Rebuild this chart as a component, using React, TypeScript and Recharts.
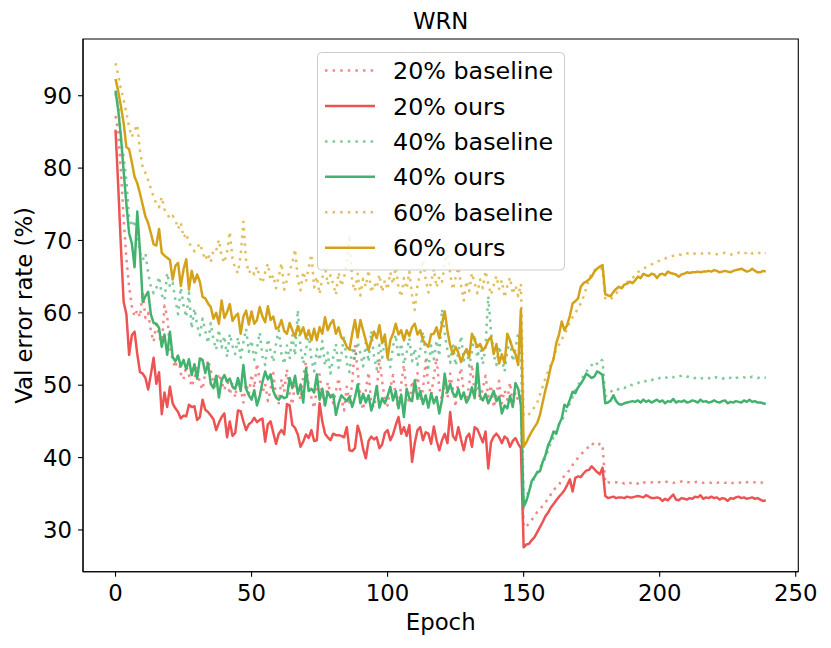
import { LineChart, Line, XAxis, YAxis, Legend, ReferenceArea } from "recharts";

const FONT = "DejaVu Sans, Verdana, sans-serif";
const RED = "#ee5353";
const GREEN = "#44b26f";
const GOLD = "#d4a21a";

// epoch index on the x axis
const epochs = Array.from({ length: 240 }, (_, i) => i);

const xTicks = [0, 50, 100, 150, 200, 250];
const yTicks = [30, 40, 50, 60, 70, 80, 90];
const X_DOMAIN = [-11.95, 250.95];
const Y_DOMAIN = [24.23, 97.84];

// 20% noise
const base20 = [
  87.2, 85.0, 79.5, 73.0, 67.5, 63.6, 60.9, 59.5, 60.4, 59.4,
  62.9, 59.3, 60.0, 57.5, 56.0, 58.4, 57.0, 55.5, 61.0, 59.5,
  55.2, 53.5, 52.4, 54.3, 51.6, 50.8, 52.7, 51.4, 49.8, 50.9,
  52.6, 50.2, 49.4, 51.8, 53.5, 52.1, 50.3, 49.5, 51.6, 50.5,
  49.3, 51.0, 48.7, 50.4, 48.3, 50.9, 49.6, 47.6, 50.2, 48.8,
  51.5, 49.6, 53.0, 50.7, 48.9, 50.2, 47.8, 49.5, 51.7, 48.5,
  47.5, 50.8, 49.1, 52.2, 48.8, 47.3, 50.6, 49.4, 48.0, 51.3,
  53.2, 50.0, 48.3, 46.8, 49.7, 51.5, 48.6, 47.2, 50.4, 48.9,
  47.5, 49.2, 51.0, 48.2, 46.5, 49.8, 47.6, 50.3, 55.6, 52.0,
  48.4, 46.6, 49.3, 51.8, 47.5, 46.9, 49.1, 53.7, 50.5, 48.0,
  47.2, 49.6, 51.4, 48.3, 46.8, 50.2, 52.8, 49.0, 47.4, 50.6,
  48.9, 51.7, 47.8, 49.5, 53.4, 50.1, 48.6, 51.2, 53.8, 49.7,
  47.9, 50.3, 48.2, 51.6, 49.4, 47.0, 50.8, 52.4, 49.0, 47.6,
  50.2, 52.9, 48.7, 50.5, 47.8, 49.6, 51.3, 48.4, 50.0, 46.9,
  48.8, 50.6, 47.5, 49.3, 48.0, 50.4, 47.2, 49.0, 47.8, 48.5,
  30.4, 30.5, 30.9, 31.4, 31.9, 32.5, 32.9, 33.3, 33.8, 34.3,
  34.9, 35.6, 35.8, 36.2, 37.0, 37.5, 37.8, 38.4, 39.0, 39.4,
  40.0, 40.4, 40.8, 41.1, 41.6, 42.0, 41.7, 41.6, 41.9, 41.8,
  36.5, 36.6, 36.5, 36.6, 36.6, 36.5, 36.6, 36.4, 36.6, 36.5,
  36.5, 36.6, 36.4, 36.7, 36.6, 36.5, 36.6, 36.6, 36.5, 36.6,
  36.6, 36.5, 36.6, 36.7, 36.6, 36.5, 36.6, 36.6, 36.7, 36.5,
  36.6, 36.6, 36.5, 36.6, 36.7, 36.6, 36.5, 36.6, 36.6, 36.5,
  36.6, 36.5, 36.6, 36.6, 36.5, 36.6, 36.4, 36.5, 36.6, 36.6,
  36.5, 36.7, 36.6, 36.6, 36.5, 36.6, 36.7, 36.6, 36.5, 36.6,
];

const ours20 = [
  85.3, 77.5, 69.0, 61.5, 59.8, 54.2, 56.9, 57.4, 54.3, 51.8,
  51.6, 51.0, 49.4, 51.5, 53.8, 50.2, 51.8, 46.0, 49.0, 47.0,
  49.8, 47.5, 46.8, 46.3, 45.4, 45.8, 45.7, 47.3, 47.0, 47.1,
  45.2, 45.6, 48.0, 46.6, 46.3, 45.8, 45.3, 43.8, 44.8, 45.6,
  46.1, 42.8, 45.0, 43.0, 43.4, 46.5, 46.4, 45.0, 43.8, 44.6,
  44.9, 45.5, 44.9, 45.2, 45.4, 42.2, 44.6, 45.0, 43.4, 41.9,
  43.3, 43.8, 43.2, 47.4, 47.2, 44.5, 44.1, 43.2, 41.5, 42.2,
  43.2, 42.7, 43.8, 42.3, 42.4, 47.5, 45.0, 43.3, 42.8, 42.4,
  43.3, 43.1, 43.1, 43.0, 42.8, 44.2, 41.0, 40.9, 41.3, 44.4,
  43.2, 41.2, 39.9, 42.3, 42.9, 42.5, 42.8, 41.3, 41.8, 43.4,
  43.8, 42.4, 43.2, 44.5, 45.6, 43.3, 44.2, 43.0, 44.5, 39.4,
  42.0, 43.8, 44.2, 42.4, 43.5, 43.3, 41.9, 44.3, 42.4, 41.0,
  42.4, 43.3, 42.0, 46.3, 43.0, 42.4, 44.2, 42.5, 41.0, 42.8,
  43.3, 41.5, 44.2, 43.9, 43.0, 42.1, 43.6, 38.5, 42.1, 42.9,
  43.3, 42.8, 42.0, 42.9, 42.6, 41.5, 42.3, 42.7, 41.9, 41.3,
  27.6, 28.0, 28.1, 28.6, 29.0, 29.7, 30.4, 31.1, 31.9, 32.4,
  33.1, 33.6, 34.1, 34.6, 35.0, 35.5, 36.2, 37.0, 35.3, 37.2,
  37.4, 37.3, 37.8, 38.2, 38.3, 38.8, 38.4, 38.0, 37.7, 38.6,
  34.7, 34.4, 34.5, 34.6, 34.4, 34.5, 34.5, 34.4, 34.6, 34.5,
  34.5, 34.6, 34.7, 34.6, 34.5, 34.8, 34.6, 34.4, 34.4, 34.5,
  34.4, 34.0, 34.3, 34.1, 34.5, 34.9, 34.2, 34.1, 34.4, 34.3,
  34.2, 34.4, 34.3, 34.6, 34.5, 34.8, 34.3, 34.5, 34.4, 34.6,
  34.4, 34.5, 34.2, 34.4, 34.3, 34.0, 34.4, 34.3, 34.5, 34.6,
  34.4, 34.5, 34.3, 34.4, 34.5, 34.3, 34.4, 34.2, 34.0, 34.1,
];

// 40% noise
const base40 = [
  90.3, 88.5, 84.0, 81.5, 78.3, 73.2, 71.9, 72.8, 71.0, 68.2,
  67.3, 68.2, 65.5, 63.6, 62.7, 63.4, 65.0, 62.5, 61.7, 65.5,
  63.6, 64.2, 61.8, 59.8, 63.5, 61.0, 59.4, 62.8, 57.8, 60.6,
  58.3, 56.9, 59.2, 57.5, 55.8, 58.6, 56.3, 54.9, 57.7, 55.2,
  56.8, 53.9, 57.1, 55.4, 54.3, 56.6, 53.8, 55.9, 57.8, 54.6,
  56.2, 53.5, 55.1, 57.3, 54.0, 52.8, 56.4, 54.7, 53.2, 55.8,
  57.6, 54.3, 52.9, 55.5, 53.6, 56.9, 54.1, 60.4, 55.2, 53.0,
  54.8, 57.2, 53.6, 51.9, 55.0, 53.4, 56.1, 52.7, 54.5, 51.6,
  53.9, 55.7, 52.4, 54.2, 56.8, 53.1, 51.8, 55.3, 53.5, 56.0,
  54.4, 52.6, 55.9, 53.2, 57.5, 54.0, 52.2, 55.6, 53.8, 56.3,
  54.1, 52.5, 55.4, 57.0, 53.7, 55.8, 52.9, 54.6, 56.5, 53.3,
  55.1, 52.8, 54.9, 57.4, 54.2, 52.4, 55.5, 53.6, 56.2, 54.0,
  60.5, 57.2, 54.8, 53.1, 55.9, 52.7, 54.5, 56.8, 53.4, 55.2,
  52.6, 54.7, 57.0, 53.8, 55.6, 52.9, 55.3, 62.3, 57.5, 54.2,
  52.8, 55.4, 53.6, 51.9, 54.8, 56.1, 53.3, 55.0, 57.2, 55.6,
  33.8, 34.5, 35.6, 36.4, 37.2, 37.8, 38.6, 39.2, 40.0, 41.0,
  42.0, 42.8, 43.5, 44.6, 45.0, 46.0, 46.8, 47.5, 48.4, 49.3,
  50.0, 50.6, 51.3, 51.8, 52.4, 52.8, 52.5, 53.0, 53.6, 53.4,
  48.4, 48.9, 49.1, 49.3, 49.2, 49.5, 49.7, 49.6, 49.9, 50.1,
  50.0, 50.2, 50.3, 50.5, 50.4, 50.6, 50.8, 50.7, 50.9, 50.8,
  51.0, 50.9, 51.1, 51.0, 51.2, 51.1, 51.3, 51.2, 51.3, 51.4,
  51.2, 51.1, 50.9, 51.0, 51.1, 50.9, 51.0, 51.1, 51.0, 50.8,
  51.0, 51.1, 51.0, 50.9, 51.0, 51.2, 51.0, 50.8, 51.0, 51.1,
  51.0, 51.1, 50.9, 51.0, 51.2, 51.1, 51.0, 51.1, 51.2, 51.0,
];

const ours40 = [
  90.7, 88.0, 84.3, 79.5, 75.0, 71.0, 69.6, 66.3, 74.0, 68.5,
  61.5, 62.3, 62.9, 59.8, 58.6, 58.5, 57.9, 55.3, 57.0, 54.2,
  57.4, 53.9, 53.3, 54.1, 52.6, 53.5, 52.2, 53.6, 51.4, 52.9,
  50.9, 53.7, 53.5, 51.7, 53.0, 50.2, 49.6, 51.3, 48.3, 50.7,
  51.4, 50.5, 50.9, 49.8, 49.5, 51.0, 49.2, 52.8, 49.5, 48.6,
  48.0, 49.3, 47.2, 48.5, 50.4, 51.9, 50.8, 51.5, 49.2, 48.3,
  48.0, 48.5, 48.2, 48.4, 51.0, 49.6, 51.3, 48.8, 50.1, 47.6,
  52.3, 49.2, 49.5, 49.0, 51.5, 48.0, 49.5, 47.2, 49.1, 48.3,
  48.7, 45.9, 47.5, 48.6, 48.2, 47.8, 48.4, 47.0, 48.3, 50.1,
  47.5, 48.8, 47.6, 48.6, 46.5, 47.8, 49.9, 46.9, 48.2, 47.5,
  48.5, 49.8, 47.9, 49.2, 46.8, 48.7, 45.6, 49.5, 48.2, 47.8,
  50.7, 48.1, 49.2, 47.4, 48.6, 46.9, 48.9, 47.5, 48.4, 46.1,
  48.0, 51.6, 49.0, 50.2, 48.9, 48.4, 49.5, 48.1, 49.0, 47.6,
  48.3, 49.7, 48.2, 53.0, 48.5, 47.9, 48.8, 47.5, 48.3, 49.2,
  47.8, 48.4, 46.1, 47.2, 46.8, 48.5, 47.0, 50.3, 49.5, 47.2,
  33.2, 34.0, 35.3, 36.8, 37.3, 38.0, 38.1, 39.4, 40.3, 41.7,
  42.5, 43.6, 43.3, 44.6, 45.4, 47.3, 47.0, 48.0, 49.1, 48.9,
  49.7, 50.2, 50.8, 51.6, 51.3, 51.0, 51.2, 51.9, 51.7, 51.4,
  47.5, 47.6, 47.9, 48.6, 47.8, 47.4, 47.3, 47.5, 47.6, 47.7,
  47.8, 47.7, 47.9, 47.6, 48.0, 47.7, 47.9, 47.6, 47.8, 48.0,
  47.7, 47.9, 47.5, 47.8, 47.7, 48.1, 47.6, 47.8, 47.7, 47.9,
  47.6, 47.7, 47.9, 47.8, 47.6, 48.0, 47.7, 47.8, 47.6, 47.7,
  47.9, 47.7, 47.6, 47.8, 47.9, 47.5, 47.7, 47.6, 47.8, 47.7,
  47.6, 47.9, 47.7, 48.0, 47.7, 47.8, 47.6, 47.6, 47.5, 47.4,
];

// 60% noise
const base60 = [
  94.5, 92.8, 90.9, 89.4, 87.6, 85.7, 84.3, 85.2, 86.0, 82.4,
  80.1, 79.3, 78.3, 77.2, 76.0, 75.1, 74.6, 76.0, 74.3, 73.7,
  73.0, 73.4, 72.8, 71.6, 72.5, 70.4, 71.0, 69.6, 69.2, 68.5,
  69.0, 69.6, 68.4, 67.3, 68.2, 67.0, 68.7, 68.6, 70.1, 67.8,
  66.9, 68.4, 71.2, 67.5, 66.1, 65.5, 68.0, 72.6, 67.2, 65.5,
  66.0, 65.3, 66.4, 64.8, 64.1, 65.6, 66.8, 64.5, 65.2, 63.4,
  65.0, 66.9, 63.2, 64.5, 65.8, 66.9, 68.8, 64.6, 63.1, 65.7,
  64.3, 66.2, 68.1, 63.5, 65.0, 62.6, 64.8, 66.4, 63.9, 65.2,
  64.0, 62.5, 65.6, 63.7, 64.9, 66.8, 70.7, 64.2, 63.0, 65.4,
  62.4, 64.7, 63.6, 65.9, 62.8, 64.1, 63.4, 65.3, 62.9, 64.5,
  63.2, 65.6, 64.0, 66.3, 63.5, 62.2, 64.8, 63.3, 65.7, 62.4,
  60.4, 63.9, 65.4, 67.3, 64.6, 62.8, 64.2, 66.1, 63.5, 65.0,
  64.3, 66.7, 68.7, 65.4, 63.2, 64.9, 66.3, 63.8, 61.7, 64.4,
  63.0, 65.5, 64.1, 62.7, 64.6, 63.4, 65.8, 64.0, 62.5, 63.8,
  65.1, 63.3, 64.5, 62.1, 63.7, 64.9, 62.6, 63.8, 62.3, 64.0,
  45.8, 45.7, 46.0, 46.4, 47.0, 47.6, 48.7, 49.8, 50.9, 51.9,
  52.8, 53.7, 54.9, 55.6, 56.3, 57.0, 57.8, 58.8, 59.4, 60.0,
  60.6, 61.3, 62.2, 63.4, 64.6, 65.5, 65.9, 66.1, 66.3, 66.0,
  62.0, 61.9, 61.8, 62.3, 62.7, 63.1, 63.4, 63.8, 64.2, 64.5,
  64.8, 65.2, 65.6, 65.9, 66.1, 66.3, 66.5, 66.7, 66.9, 67.1,
  67.2, 67.4, 67.5, 67.7, 67.8, 67.9, 68.0, 68.1, 68.0, 68.2,
  68.2, 68.3, 68.1, 68.2, 68.3, 68.2, 68.2, 68.1, 68.2, 68.3,
  68.2, 68.1, 68.2, 68.2, 68.3, 68.2, 68.1, 68.0, 68.2, 68.3,
  68.4, 68.2, 68.3, 68.5, 68.2, 68.3, 68.4, 68.2, 68.1, 68.3,
];

const ours60 = [
  92.3, 90.6, 88.5, 86.2, 82.9, 82.6, 80.8, 78.8, 77.9, 76.5,
  74.9, 73.3, 72.4, 71.0, 69.5, 69.3, 71.6, 68.3, 67.9, 67.6,
  67.3, 64.6, 66.5, 66.9, 63.7, 66.0, 67.4, 63.2, 65.8, 64.2,
  65.3, 64.3, 62.2, 62.0, 61.3, 60.8, 59.2, 60.0, 58.5, 61.7,
  59.3, 60.1, 61.2, 58.9, 59.5, 59.9, 57.1, 59.5, 60.3, 58.4,
  60.2, 58.5, 59.0, 60.8, 59.5, 58.7, 60.9, 59.0, 59.5, 57.8,
  58.0, 59.0, 57.5, 57.1, 58.6, 57.6, 56.7, 58.2, 57.1, 58.0,
  56.5, 57.6, 56.2, 57.8, 56.2, 58.0, 57.1, 59.4, 57.6, 58.5,
  59.0, 57.1, 58.0, 56.6, 56.2, 55.3, 54.9, 57.1, 59.0, 56.6,
  59.0, 57.6, 56.2, 54.8, 56.2, 57.4, 56.5, 58.3, 55.8, 57.0,
  53.7, 56.2, 57.1, 58.5, 57.0, 57.6, 56.2, 57.6, 56.8, 58.0,
  58.5, 57.0, 57.6, 56.2, 55.7, 55.3, 57.0, 57.1, 58.0, 56.5,
  58.5, 60.2, 57.5, 55.5, 54.3, 55.3, 54.5, 53.2, 54.3, 55.0,
  53.9, 57.1, 56.2, 55.3, 55.7, 54.8, 55.3, 56.2, 56.7, 54.3,
  55.7, 53.0, 54.3, 53.0, 57.1, 56.2, 55.0, 54.3, 52.8, 60.5,
  41.5, 42.1, 42.9, 43.6, 44.2, 44.8, 45.9, 47.6, 49.3, 50.8,
  52.6, 53.6, 55.8, 57.0, 58.8, 57.6, 58.3, 59.6, 61.3, 61.6,
  62.0, 63.6, 64.1, 64.3, 64.6, 65.0, 65.7, 66.1, 66.4, 66.6,
  62.6, 62.4, 62.3, 62.9, 63.3, 63.6, 63.4, 63.9, 64.0, 64.3,
  64.1, 64.5, 65.0, 64.8, 65.4, 65.2, 65.1, 65.4, 65.3, 64.8,
  65.3, 65.4, 65.2, 65.7, 65.5, 65.4, 65.3, 65.0, 65.3, 65.4,
  65.6, 65.5, 65.6, 65.6, 65.7, 65.6, 65.7, 65.7, 65.8, 65.7,
  65.9, 65.8, 65.6, 65.7, 65.8, 65.7, 65.6, 65.8, 65.9, 66.0,
  66.1, 65.9, 65.7, 65.8, 66.1, 65.8, 65.6, 65.6, 65.8, 65.7,
];

const series = [
  { key: "base20", name: "20% baseline", color: RED, dotted: true },
  { key: "ours20", name: "20% ours", color: RED, dotted: false },
  { key: "base40", name: "40% baseline", color: GREEN, dotted: true },
  { key: "ours40", name: "40% ours", color: GREEN, dotted: false },
  { key: "base60", name: "60% baseline", color: GOLD, dotted: true },
  { key: "ours60", name: "60% ours", color: GOLD, dotted: false },
];

const data = epochs.map((epoch, i) => ({
  epoch,
  base20: base20[i],
  ours20: ours20[i],
  base40: base40[i],
  ours40: ours40[i],
  base60: base60[i],
  ours60: ours60[i],
}));

const FS = 22.8;
const LEGEND_FS = 23.8;
const LW = 2.5;
const DASH = "2.5 5.1";
const tickStyle = { fill: "#000", fontSize: FS, fontFamily: FONT };
const axisLine = { stroke: "#000", strokeWidth: 1.1 };

function LegendBox() {
  return (
    <svg width={249} height={220} style={{ display: "block" }}>
      <rect
        x={0.5}
        y={0.5}
        width={247}
        height={217.5}
        rx={4}
        fill="#fff"
        fillOpacity={0.8}
        stroke="#cccccc"
        strokeWidth={1}
      />
      {series.map((s, i) => {
        const cy = 18.5 + i * 35.45;
        return (
          <g key={s.key}>
            <line
              x1={8}
              x2={58}
              y1={cy}
              y2={cy}
              stroke={s.color}
              strokeWidth={LW}
              strokeOpacity={s.dotted ? 0.7 : 1}
              strokeDasharray={s.dotted ? DASH : undefined}
            />
            <text
              x={76}
              y={cy}
              dy="0.36em"
              fontSize={LEGEND_FS}
              fontFamily={FONT}
              fill="#000"
            >
              {s.name}
            </text>
          </g>
        );
      })}
    </svg>
  );
}

export default function App() {
  return (
    <div
      style={{
        position: "absolute",
        left: 0,
        top: 0,
        width: 831,
        height: 648,
        background: "#fff",
      }}
    >
      <LineChart
        width={831}
        height={648}
        data={data}
        margin={{ top: 39, right: 32.7, bottom: 0, left: 23 }}
      >
        <XAxis
          dataKey="epoch"
          type="number"
          domain={X_DOMAIN}
          allowDataOverflow
          ticks={xTicks}
          height={76.3}
          tick={tickStyle}
          tickSize={5}
          tickMargin={8.5}
          tickLine={axisLine}
          axisLine={axisLine}
          label={() => (
            <text
              x={440.7}
              y={630}
              textAnchor="middle"
              fontSize={FS}
              fontFamily={FONT}
              fill="#000"
            >
              Epoch
            </text>
          )}
        />
        <YAxis
          type="number"
          domain={Y_DOMAIN}
          allowDataOverflow
          ticks={yTicks}
          width={60}
          tick={tickStyle}
          tickSize={5}
          tickMargin={6}
          tickLine={axisLine}
          axisLine={axisLine}
          label={() => (
            <text
              transform="translate(32,305.4) rotate(-90)"
              textAnchor="middle"
              fontSize={FS}
              fontFamily={FONT}
              fill="#000"
            >
              Val error rate (%)
            </text>
          )}
        />
        <ReferenceArea
          x1={X_DOMAIN[0]}
          x2={X_DOMAIN[1]}
          y1={Y_DOMAIN[0]}
          y2={Y_DOMAIN[1]}
          fill="none"
          fillOpacity={0}
          stroke="#000"
          strokeWidth={1.1}
          ifOverflow="visible"
          label={() => (
            <text
              x={440.7}
              y={29.3}
              textAnchor="middle"
              fontSize={FS}
              fontFamily={FONT}
              fill="#000"
            >
              WRN
            </text>
          )}
        />
        {series.map((s) => (
          <Line
            key={s.key}
            dataKey={s.key}
            name={s.name}
            type="linear"
            stroke={s.color}
            strokeWidth={LW}
            strokeOpacity={s.dotted ? 0.7 : 1}
            strokeDasharray={s.dotted ? DASH : undefined}
            strokeLinejoin="round"
            dot={false}
            activeDot={false}
            isAnimationActive={false}
          />
        ))}
        <Legend
          layout="vertical"
          align="center"
          verticalAlign="middle"
          wrapperStyle={{ left: 317, top: 51.7, width: 249, height: 220 }}
          content={() => <LegendBox />}
        />
      </LineChart>
    </div>
  );
}
